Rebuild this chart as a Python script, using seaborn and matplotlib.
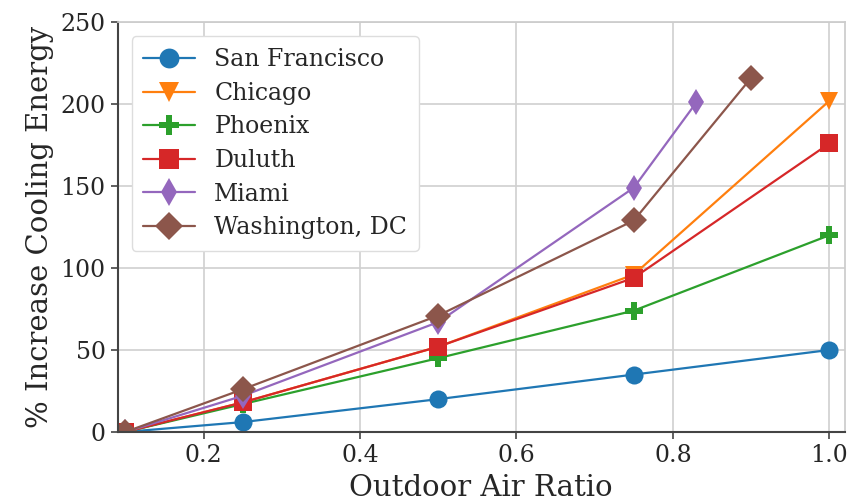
import pandas as pd
import numpy as np
import matplotlib
matplotlib.use("Agg")
import matplotlib.pyplot as plt
import seaborn as sns

# === Data ===
cities = ["San Francisco", "Chicago", "Phoenix", "Duluth", "Miami", "Washington, DC"]
x_full = [0.1, 0.25, 0.5, 0.75, 1.0]
sf = [0, 6, 20, 35, 50]
chicago = [0, 18, 52, 96, 202]
phoenix = [0, 17, 45, 74, 120]
duluth = [0, 18, 52, 94, 176]
x_miami = [0.1, 0.25, 0.5, 0.75, 0.83]
miami = [0, 22, 67, 149, 201]
x_dc = [0.1, 0.25, 0.5, 0.75, 0.9]
dc = [0, 26, 71, 129, 216]

xs = [x_full, x_full, x_full, x_full, x_miami, x_dc]
ys = [sf, chicago, phoenix, duluth, miami, dc]
markers = ["o", "v", "P", "s", "d", "D"]

df = pd.concat(
    [pd.DataFrame({"ratio": x, "increase": y, "city": c}) for c, x, y in zip(cities, xs, ys)],
    ignore_index=True,
)

# === Style ===
sns.set_theme(style="whitegrid")
plt.rcParams["font.family"] = ["DejaVu Serif"]
plt.rcParams["axes.edgecolor"] = "#cccccc"

fig, ax = plt.subplots(figsize=(8.64, 5.04), dpi=100)
sns.lineplot(
    data=df, x="ratio", y="increase", hue="city", style="city",
    hue_order=cities, style_order=cities,
    palette=sns.color_palette("tab10", 6), markers=markers, dashes=False,
    markersize=13, markeredgewidth=0, linewidth=1.6, ax=ax,
)

ax.set_xlim(0.09, 1.02)
ax.set_ylim(0, 250)
ax.set_xticks([0.2, 0.4, 0.6, 0.8, 1.0])
ax.set_yticks([0, 50, 100, 150, 200, 250])
ax.set_xlabel("Outdoor Air Ratio", fontsize=21, labelpad=5)
ax.set_ylabel("% Increase Cooling Energy", fontsize=21, labelpad=5)
ax.tick_params(axis="both", labelsize=17, length=5, width=1.2, color="#444444", bottom=True, left=True)
for side in ["left", "bottom"]:
    ax.spines[side].set_color("#444444")
    ax.spines[side].set_linewidth(1.5)
ax.grid(color="#d0d0d0", linewidth=1.2)

ax.legend(loc="upper left", fontsize=17, frameon=True, title=None,
          borderpad=0.5, labelspacing=0.45, handlelength=2.2, handletextpad=0.8,
          borderaxespad=0.6, framealpha=1, edgecolor="#dddddd", markerscale=1.1)

plt.subplots_adjust(left=0.136, right=0.978, top=0.956, bottom=0.143)
plt.savefig("out.png", dpi=100)
